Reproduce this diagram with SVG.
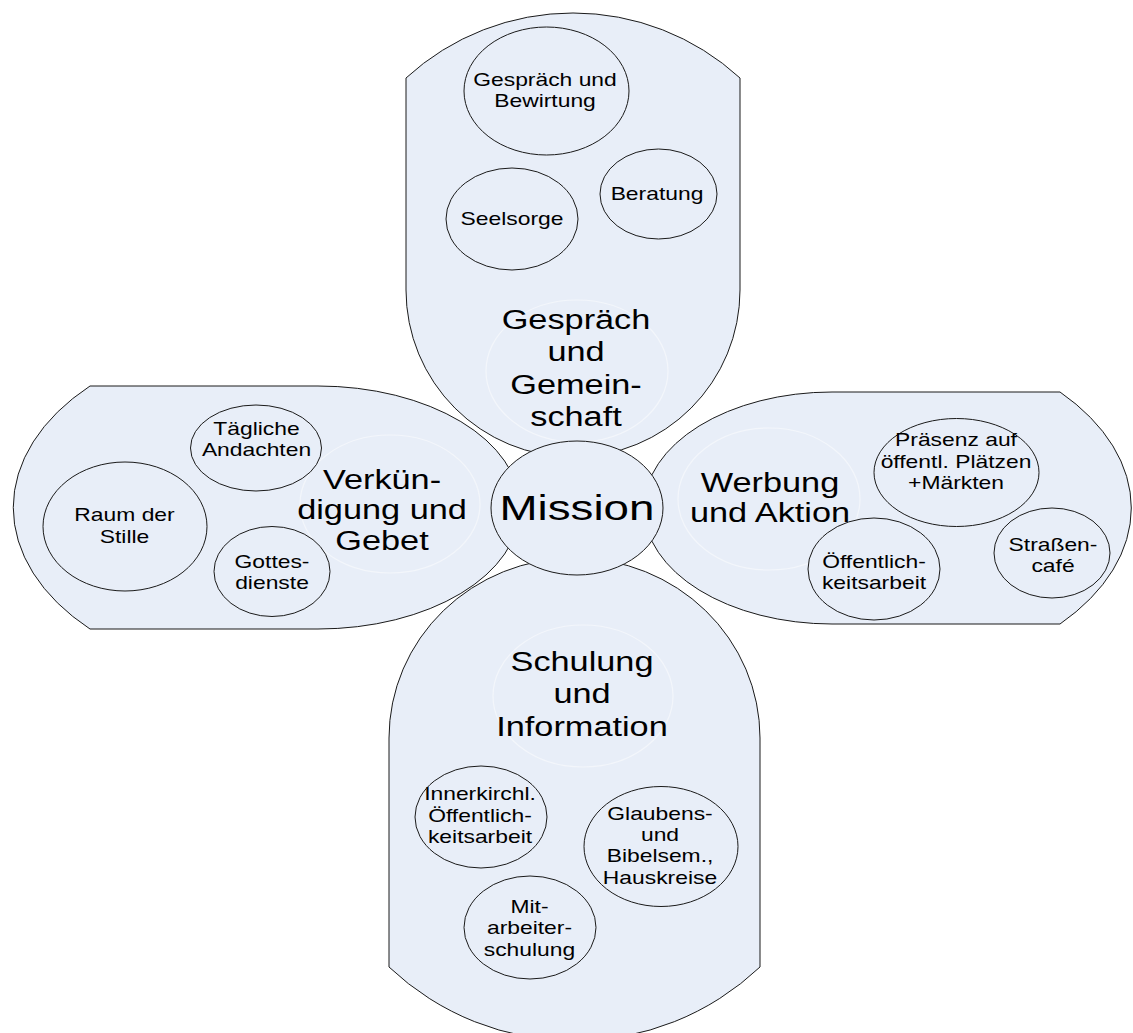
<svg xmlns="http://www.w3.org/2000/svg" width="1133" height="1033" viewBox="0 0 1133 1033">
<style>
.petal{fill:#e8eef8;stroke:#1a1a1a;stroke-width:1}
.sub{fill:#e8eef8;stroke:#1a1a1a;stroke-width:1}
.ring{fill:none;stroke:#f3f6fb;stroke-width:1.2}
text{font-family:"Liberation Sans",Arial,sans-serif;fill:#000;text-anchor:middle}
.s{font-size:18px}
.b{font-size:27px}
.m{font-size:36px}
</style>
<rect x="0" y="0" width="1133" height="1033" fill="#ffffff"/>
<g id="petal-top">
<path class="petal" d="M406,78 A247 247 0 0 1 740,78 L740,290 A167 167 0 0 1 406,290 Z"/>
<ellipse class="ring" cx="577" cy="371" rx="91" ry="71"/>
<text class="b" transform="matrix(1.27 0 0 1 576 0)"><tspan x="0" y="329">Gespräch</tspan><tspan x="0" y="361.3">und</tspan><tspan x="0" y="393.6">Gemein-</tspan><tspan x="0" y="426">schaft</tspan></text>
</g>
<g id="node-bewirtung">
<ellipse class="sub" cx="546.5" cy="91" rx="82.5" ry="64"/>
<text class="s" transform="matrix(1.27 0 0 1 545 0)"><tspan x="0" y="86.5">Gespräch und</tspan><tspan x="0" y="107.5">Bewirtung</tspan></text>
</g>
<g id="node-seelsorge">
<ellipse class="sub" cx="512" cy="219" rx="66" ry="51"/>
<text class="s" transform="matrix(1.27 0 0 1 512 0)"><tspan x="0" y="225">Seelsorge</tspan></text>
</g>
<g id="node-beratung">
<ellipse class="sub" cx="658.5" cy="194" rx="58.5" ry="45"/>
<text class="s" transform="matrix(1.27 0 0 1 657 0)"><tspan x="0" y="200">Beratung</tspan></text>
</g>

<g id="petal-left">
<path class="petal" d="M90,386 L318,386 A202 121.5 0 0 1 318,629 L90,629 A270 174 0 0 1 90,386 Z"/>
<ellipse class="ring" cx="390" cy="504" rx="90" ry="69"/>
<text class="b" transform="matrix(1.27 0 0 1 382 0)"><tspan x="0" y="489">Verkün-</tspan><tspan x="0" y="519.5">digung und</tspan><tspan x="0" y="550">Gebet</tspan></text>
</g>
<g id="node-andachten">
<ellipse class="sub" cx="256" cy="448" rx="65.5" ry="43"/>
<text class="s" transform="matrix(1.27 0 0 1 256.5 0)"><tspan x="0" y="435">Tägliche</tspan><tspan x="0" y="456.5">Andachten</tspan></text>
</g>
<g id="node-stille">
<ellipse class="sub" cx="125" cy="526.5" rx="82" ry="64.5"/>
<text class="s" transform="matrix(1.27 0 0 1 124.5 0)"><tspan x="0" y="521.5">Raum der</tspan><tspan x="0" y="543">Stille</tspan></text>
</g>
<g id="node-gottesdienste">
<ellipse class="sub" cx="272" cy="571.5" rx="58" ry="45"/>
<text class="s" transform="matrix(1.27 0 0 1 272 0)"><tspan x="0" y="568">Gottes-</tspan><tspan x="0" y="589">dienste</tspan></text>
</g>

<g id="petal-right">
<path class="petal" d="M1060,392 A280 174 0 0 1 1060,624 L832,624 A188 116 0 0 1 832,392 Z"/>
<ellipse class="ring" cx="769" cy="499" rx="91" ry="71"/>
<text class="b" transform="matrix(1.27 0 0 1 770 0)"><tspan x="0" y="492">Werbung</tspan><tspan x="0" y="522.5">und Aktion</tspan></text>
</g>
<g id="node-praesenz">
<ellipse class="sub" cx="956.5" cy="472.5" rx="82.5" ry="54"/>
<text class="s" transform="matrix(1.27 0 0 1 956 0)"><tspan x="0" y="446.5">Präsenz auf</tspan><tspan x="0" y="468">öffentl. Plätzen</tspan><tspan x="0" y="489.5">+Märkten</tspan></text>
</g>
<g id="node-oeffentlichkeit">
<ellipse class="sub" cx="874" cy="569" rx="66" ry="51"/>
<text class="s" transform="matrix(1.27 0 0 1 874 0)"><tspan x="0" y="568">Öffentlich-</tspan><tspan x="0" y="589">keitsarbeit</tspan></text>
</g>
<g id="node-strassencafe">
<ellipse class="sub" cx="1052" cy="553" rx="58" ry="45"/>
<text class="s" transform="matrix(1.27 0 0 1 1053 0)"><tspan x="0" y="551.5">Straßen-</tspan><tspan x="0" y="572">café</tspan></text>
</g>

<g id="petal-bottom">
<path class="petal" d="M389,738 A185.5 180 0 0 1 760,738 L760,967 A270 270 0 0 1 389,967 Z"/>
<ellipse class="ring" cx="583" cy="696" rx="90" ry="71"/>
<text class="b" transform="matrix(1.27 0 0 1 582 0)"><tspan x="0" y="671">Schulung</tspan><tspan x="0" y="703.3">und</tspan><tspan x="0" y="735.6">Information</tspan></text>
</g>
<g id="node-innerkirchl">
<ellipse class="sub" cx="481" cy="817" rx="66" ry="51"/>
<text class="s" transform="matrix(1.27 0 0 1 480 0)"><tspan x="0" y="800.5">Innerkirchl.</tspan><tspan x="0" y="822">Öffentlich-</tspan><tspan x="0" y="843.5">keitsarbeit</tspan></text>
</g>
<g id="node-glaubens">
<ellipse class="sub" cx="661" cy="846.5" rx="77" ry="60"/>
<text class="s" transform="matrix(1.27 0 0 1 660 0)"><tspan x="0" y="820">Glaubens-</tspan><tspan x="0" y="841.5">und</tspan><tspan x="0" y="862.5">Bibelsem.,</tspan><tspan x="0" y="884">Hauskreise</tspan></text>
</g>
<g id="node-mitarbeiter">
<ellipse class="sub" cx="530" cy="927.5" rx="66" ry="51.5"/>
<text class="s" transform="matrix(1.27 0 0 1 529.5 0)"><tspan x="0" y="913">Mit-</tspan><tspan x="0" y="934.5">arbeiter-</tspan><tspan x="0" y="956">schulung</tspan></text>
</g>

<g id="connectors"></g>

<g id="node-mission">
<ellipse class="sub" cx="577" cy="508" rx="86" ry="67"/>
<text class="m" transform="matrix(1.27 0 0 1 577 0)"><tspan x="0" y="520.5">Mission</tspan></text>
</g>
</svg>
